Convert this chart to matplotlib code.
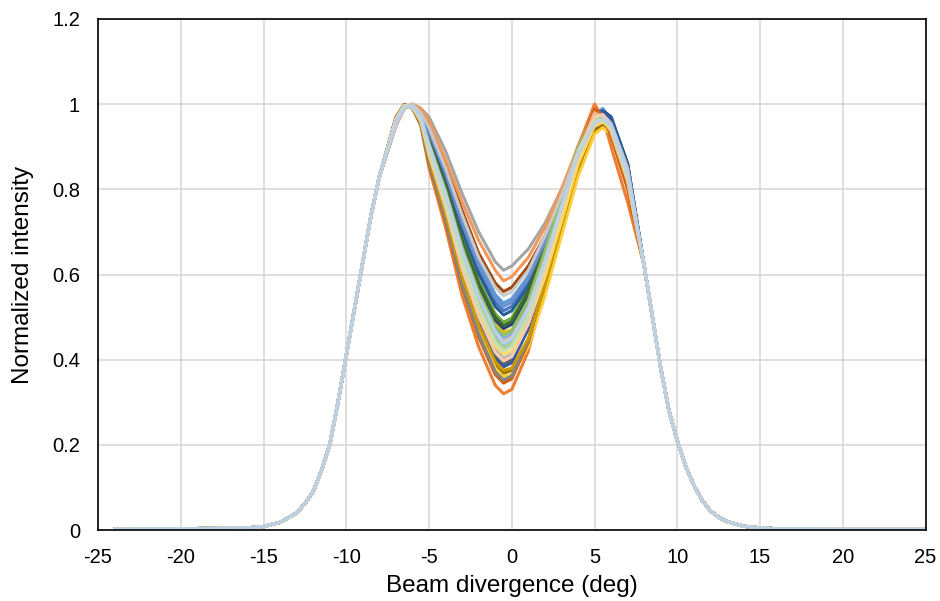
import matplotlib
matplotlib.use('Agg')
import matplotlib.pyplot as plt

plt.rcParams['font.family'] = ['Liberation Sans', 'DejaVu Sans']
plt.rcParams['axes.unicode_minus'] = False

# shared flanks (all profiles overlap there)
x_left = [-24, -22, -20, -18, -16, -15, -14, -13, -12.5, -12, -11.5, -11, -10.5, -10, -9.5, -9, -8.5, -8]
y_left = [0.002, 0.003, 0.003, 0.004, 0.005, 0.008, 0.018, 0.04, 0.062, 0.09, 0.14, 0.2, 0.30, 0.41, 0.52, 0.63, 0.74, 0.83]
x_right = [8, 8.5, 9, 9.5, 10, 10.5, 11, 11.5, 12, 12.5, 13, 14, 15, 16, 18, 20, 22, 25]
y_right = [0.62, 0.50, 0.38, 0.28, 0.21, 0.15, 0.105, 0.07, 0.045, 0.03, 0.02, 0.009, 0.005, 0.003, 0.003, 0.002, 0.002, 0.002]

# central part, one row per measured profile
x_mid = [-7, -6.5, -6, -5.5, -5, -4, -3, -2, -1, -0.5, 0, 1, 2, 3, 4, 5, 5.5, 6, 7]
profiles = [
    [0.957, 0.993, 0.997, 0.977, 0.93, 0.83, 0.71, 0.61, 0.535, 0.515, 0.525, 0.58, 0.67, 0.777, 0.887, 0.977, 0.985, 0.96, 0.85],
    [0.97, 1.00, 0.99, 0.95, 0.85, 0.71, 0.55, 0.43, 0.34, 0.32, 0.33, 0.42, 0.57, 0.74, 0.90, 1.00, 0.97, 0.90, 0.77],
    [0.95, 0.99, 1.00, 0.99, 0.97, 0.89, 0.79, 0.70, 0.63, 0.61, 0.62, 0.66, 0.72, 0.80, 0.89, 0.97, 0.98, 0.96, 0.86],
    [0.96, 0.995, 0.995, 0.97, 0.91, 0.80, 0.67, 0.565, 0.485, 0.465, 0.47, 0.52, 0.61, 0.73, 0.85, 0.94, 0.95, 0.935, 0.83],
    [0.955, 0.99, 1.00, 0.98, 0.94, 0.84, 0.73, 0.63, 0.553, 0.533, 0.543, 0.596, 0.68, 0.78, 0.887, 0.975, 0.99, 0.96, 0.85],
    [0.958, 0.994, 0.996, 0.973, 0.92, 0.814, 0.69, 0.586, 0.508, 0.488, 0.498, 0.565, 0.67, 0.785, 0.895, 0.978, 0.98, 0.947, 0.835],
    [0.96, 0.995, 0.995, 0.971, 0.913, 0.805, 0.677, 0.573, 0.493, 0.473, 0.483, 0.547, 0.649, 0.767, 0.885, 0.975, 0.985, 0.97, 0.86],
    [0.95, 0.99, 1.00, 0.98, 0.95, 0.86, 0.75, 0.65, 0.58, 0.56, 0.57, 0.62, 0.69, 0.79, 0.89, 0.97, 0.98, 0.95, 0.85],
    [0.965, 0.998, 0.992, 0.96, 0.879, 0.753, 0.608, 0.495, 0.41, 0.39, 0.40, 0.478, 0.606, 0.747, 0.882, 0.985, 0.98, 0.945, 0.82],
    [0.967, 0.998, 0.992, 0.957, 0.87, 0.74, 0.59, 0.475, 0.388, 0.368, 0.375, 0.44, 0.56, 0.70, 0.84, 0.94, 0.95, 0.93, 0.81],
    [0.957, 0.994, 0.996, 0.976, 0.927, 0.825, 0.703, 0.602, 0.525, 0.505, 0.515, 0.573, 0.666, 0.775, 0.886, 0.97, 0.985, 0.97, 0.86],
    [0.959, 0.994, 0.996, 0.972, 0.916, 0.81, 0.682, 0.579, 0.50, 0.48, 0.49, 0.56, 0.67, 0.79, 0.90, 0.979, 0.98, 0.947, 0.833],
    [0.956, 0.993, 0.997, 0.978, 0.935, 0.837, 0.72, 0.62, 0.545, 0.525, 0.535, 0.59, 0.676, 0.78, 0.887, 0.976, 0.98, 0.95, 0.84],
    [0.95, 0.99, 1.00, 0.99, 0.96, 0.87, 0.77, 0.68, 0.61, 0.585, 0.595, 0.64, 0.71, 0.80, 0.90, 0.98, 0.97, 0.93, 0.82],
    [0.964, 0.997, 0.993, 0.962, 0.885, 0.762, 0.62, 0.508, 0.424, 0.404, 0.414, 0.49, 0.614, 0.75, 0.883, 0.984, 0.98, 0.939, 0.817],
    [0.967, 0.999, 0.991, 0.956, 0.867, 0.735, 0.583, 0.467, 0.38, 0.36, 0.365, 0.43, 0.55, 0.69, 0.83, 0.93, 0.945, 0.93, 0.81],
    [0.961, 0.996, 0.994, 0.968, 0.904, 0.791, 0.658, 0.551, 0.47, 0.45, 0.46, 0.528, 0.637, 0.761, 0.884, 0.975, 0.985, 0.96, 0.84],
    [0.96, 0.995, 0.995, 0.969, 0.907, 0.796, 0.664, 0.559, 0.478, 0.458, 0.468, 0.54, 0.655, 0.78, 0.895, 0.98, 0.98, 0.944, 0.829],
    [0.966, 0.998, 0.992, 0.959, 0.876, 0.749, 0.602, 0.489, 0.403, 0.383, 0.393, 0.472, 0.603, 0.745, 0.882, 0.975, 0.985, 0.965, 0.84],
    [0.968, 0.999, 0.991, 0.953, 0.86, 0.725, 0.571, 0.453, 0.365, 0.345, 0.355, 0.441, 0.583, 0.736, 0.881, 0.988, 0.975, 0.925, 0.80],
    [0.968, 0.999, 0.991, 0.954, 0.863, 0.73, 0.576, 0.46, 0.372, 0.352, 0.362, 0.446, 0.587, 0.738, 0.881, 0.97, 0.975, 0.95, 0.83],
    [0.966, 0.998, 0.992, 0.958, 0.873, 0.744, 0.596, 0.481, 0.395, 0.375, 0.38, 0.45, 0.575, 0.715, 0.855, 0.95, 0.96, 0.94, 0.82],
    [0.963, 0.996, 0.994, 0.965, 0.895, 0.777, 0.639, 0.53, 0.448, 0.423, 0.433, 0.505, 0.624, 0.755, 0.884, 0.975, 0.975, 0.95, 0.83],
    [0.962, 0.996, 0.994, 0.967, 0.901, 0.786, 0.652, 0.544, 0.463, 0.443, 0.453, 0.522, 0.634, 0.76, 0.884, 0.98, 0.97, 0.935, 0.82],
    [0.95, 0.99, 1.00, 0.98, 0.945, 0.85, 0.74, 0.64, 0.57, 0.55, 0.56, 0.61, 0.69, 0.785, 0.89, 0.965, 0.975, 0.955, 0.85],
    [0.964, 0.997, 0.993, 0.963, 0.889, 0.768, 0.627, 0.517, 0.433, 0.413, 0.42, 0.485, 0.595, 0.725, 0.86, 0.95, 0.96, 0.94, 0.82],
    [0.962, 0.996, 0.994, 0.966, 0.898, 0.781, 0.645, 0.537, 0.455, 0.435, 0.445, 0.515, 0.63, 0.758, 0.884, 0.96, 0.97, 0.95, 0.83],
    [0.963, 0.996, 0.994, 0.965, 0.895, 0.777, 0.639, 0.53, 0.448, 0.428, 0.438, 0.509, 0.626, 0.756, 0.884, 0.965, 0.97, 0.945, 0.825],
    [0.965, 0.997, 0.993, 0.961, 0.882, 0.758, 0.614, 0.502, 0.417, 0.397, 0.407, 0.484, 0.61, 0.749, 0.883, 0.97, 0.975, 0.945, 0.825],
    [0.963, 0.997, 0.993, 0.964, 0.891, 0.772, 0.633, 0.523, 0.44, 0.42, 0.43, 0.503, 0.622, 0.754, 0.883, 0.96, 0.965, 0.945, 0.83],
    [0.96, 0.993, 0.995, 0.97, 0.905, 0.79, 0.656, 0.548, 0.467, 0.44, 0.45, 0.52, 0.632, 0.758, 0.88, 0.955, 0.965, 0.95, 0.835],
]
colors = ['#4472C4', '#ED7D31', '#A5A5A5', '#FFC000', '#5B9BD5', '#70AD47',
          '#264478', '#9E480E', '#636363', '#997300', '#255E91', '#43682B',
          '#698ED0', '#F1975A', '#B7B7B7', '#FFCD33', '#7CAFDD', '#8CC168',
          '#335AA1', '#D26012', '#848484', '#CC9A00', '#8FAADC', '#F4B183',
          '#C9C9C9', '#FFD966', '#9DC3E6', '#A9D18E', '#F8CBAD', '#C5E0B4',
          '#BDD0EA']

fig = plt.figure(figsize=(9.4, 6.01), dpi=100)
ax = fig.add_axes([0.1043, 0.1181, 0.8803, 0.8503])

x_all = x_left + x_mid + x_right
for prof, c in zip(profiles, colors):
    ax.plot(x_all, y_left + prof + y_right, color=c, lw=2.2,
            solid_joinstyle='round', solid_capstyle='round')

ax.set_xlim(-25, 25)
ax.set_ylim(0, 1.2)
ax.set_xticks(range(-25, 26, 5))
ax.set_yticks([0, 0.2, 0.4, 0.6, 0.8, 1, 1.2])
ax.set_yticklabels(['0', '0.2', '0.4', '0.6', '0.8', '1', '1.2'])
ax.grid(True, color='#D9D9D9', lw=1.2)
ax.set_axisbelow(True)
ax.tick_params(length=0, labelsize=14.5)
ax.tick_params(axis='x', pad=13)
ax.tick_params(axis='y', pad=13)
for s in ax.spines.values():
    s.set_color('black')
    s.set_linewidth(1.2)

ax.set_xlabel('Beam divergence (deg)', fontsize=17.5, labelpad=6)
ax.set_ylabel('Normalized intensity', fontsize=17.5, labelpad=13)

fig.savefig('out.png', dpi=100)
